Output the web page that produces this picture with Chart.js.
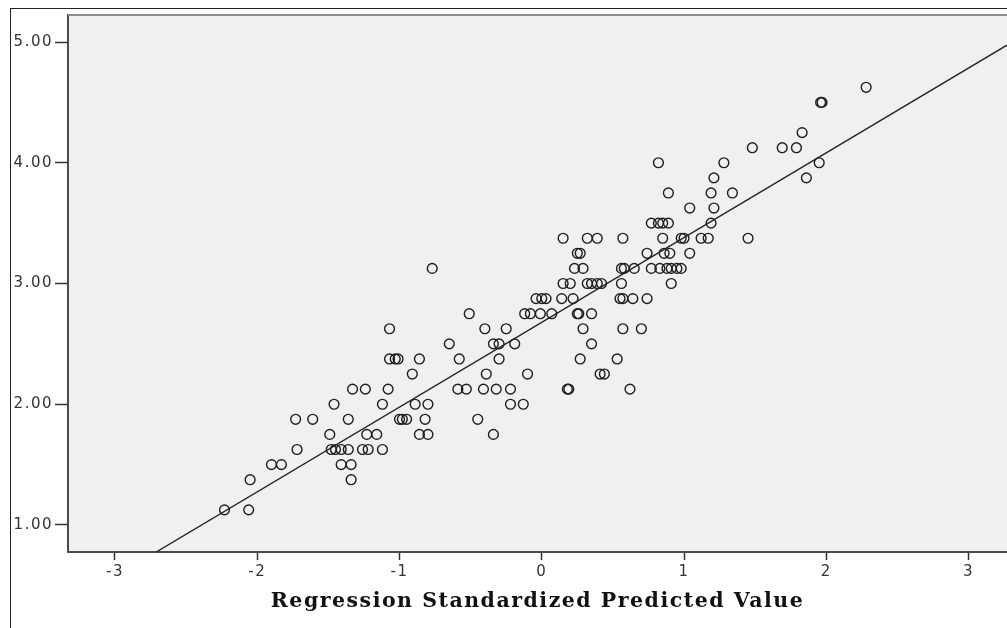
<!DOCTYPE html>
<html>
<head>
<meta charset="utf-8">
<script src="https://cdn.jsdelivr.net/npm/chart.js@4"></script>
<style>
  body { margin: 0; background: #fff; }
  #wrap { width: 1007px; height: 628px; }
</style>
</head>
<body>
<div id="wrap"><canvas id="scatterChart"></canvas></div>
<script>
// regression standardized predicted value (x) and observed score (y), read row by row
const zPred = [
    2.28,
    1.96, 1.97,
    1.83,
    1.48, 1.69, 1.79,
    0.82, 1.28, 1.95,
    1.21, 1.86,
    0.89, 1.19, 1.34,
    1.04, 1.21,
    0.77, 0.82, 0.85, 0.89, 1.19,
    0.15, 0.32, 0.39, 0.57, 0.85, 0.98, 1.00, 1.12, 1.17, 1.45,
    0.25, 0.27, 0.74, 0.86, 0.90, 1.04,
    -0.77, 0.23, 0.29, 0.56, 0.58, 0.65, 0.77, 0.83, 0.88, 0.91, 0.95, 0.98,
    0.15, 0.20, 0.32, 0.35, 0.39, 0.42, 0.56, 0.91,
    -0.04, 0.00, 0.03, 0.14, 0.22, 0.55, 0.57, 0.64, 0.74,
    -0.51, -0.12, -0.08, -0.01, 0.07, 0.25, 0.26, 0.35,
    -1.07, -0.40, -0.25, 0.29, 0.57, 0.70,
    -0.65, -0.34, -0.30, -0.19, 0.35,
    -1.07, -1.03, -1.01, -0.86, -0.58, -0.30, 0.27, 0.53,
    -0.91, -0.39, -0.10, 0.41, 0.44,
    -1.33, -1.24, -1.08, -0.59, -0.53, -0.41, -0.32, -0.22, 0.18, 0.19, 0.62,
    -1.46, -1.12, -0.89, -0.80, -0.22, -0.13,
    -1.73, -1.61, -1.36, -1.00, -0.98, -0.95, -0.82, -0.45,
    -1.49, -1.23, -1.16, -0.86, -0.80, -0.34,
    -1.72, -1.48, -1.45, -1.41, -1.36, -1.26, -1.22, -1.12,
    -1.90, -1.83, -1.41, -1.34,
    -2.05, -1.34,
    -2.23, -2.06
];
const score = [
    4.625,
    4.5, 4.5,
    4.25,
    4.125, 4.125, 4.125,
    4.0, 4.0, 4.0,
    3.875, 3.875,
    3.75, 3.75, 3.75,
    3.625, 3.625,
    3.5, 3.5, 3.5, 3.5, 3.5,
    3.375, 3.375, 3.375, 3.375, 3.375, 3.375, 3.375, 3.375, 3.375, 3.375,
    3.25, 3.25, 3.25, 3.25, 3.25, 3.25,
    3.125, 3.125, 3.125, 3.125, 3.125, 3.125, 3.125, 3.125, 3.125, 3.125, 3.125, 3.125,
    3.0, 3.0, 3.0, 3.0, 3.0, 3.0, 3.0, 3.0,
    2.875, 2.875, 2.875, 2.875, 2.875, 2.875, 2.875, 2.875, 2.875,
    2.75, 2.75, 2.75, 2.75, 2.75, 2.75, 2.75, 2.75,
    2.625, 2.625, 2.625, 2.625, 2.625, 2.625,
    2.5, 2.5, 2.5, 2.5, 2.5,
    2.375, 2.375, 2.375, 2.375, 2.375, 2.375, 2.375, 2.375,
    2.25, 2.25, 2.25, 2.25, 2.25,
    2.125, 2.125, 2.125, 2.125, 2.125, 2.125, 2.125, 2.125, 2.125, 2.125, 2.125,
    2.0, 2.0, 2.0, 2.0, 2.0, 2.0,
    1.875, 1.875, 1.875, 1.875, 1.875, 1.875, 1.875, 1.875,
    1.75, 1.75, 1.75, 1.75, 1.75, 1.75,
    1.625, 1.625, 1.625, 1.625, 1.625, 1.625, 1.625, 1.625,
    1.5, 1.5, 1.5, 1.5,
    1.375, 1.375,
    1.125, 1.125
];
// fit line end points, where it meets the frame
const fitX = [-2.71, 3.27];
const fitY = [0.776, 4.975];

const xTicks = [-3, -2, -1, 0, 1, 2, 3];
const yTicks = [1, 2, 3, 4, 5];
const xTitle = "Regression Standardized Predicted Value";

// plot background, outer frame and top border of the plot
const framePlugin = {
    id: "frame",
    beforeDraw(chart) {
        const { ctx, chartArea: a, width, height } = chart;
        ctx.save();
        ctx.fillStyle = "#ffffff";
        ctx.fillRect(0, 0, width, height);
        ctx.fillStyle = "#f0f0f0";
        ctx.fillRect(a.left, a.top, a.right - a.left, a.bottom - a.top);
        ctx.restore();
        ctx.letterSpacing = "1.5px";   // SPSS text is a bit spaced out
    },
    afterDraw(chart) {
        const { ctx, chartArea: a, width, height } = chart;
        ctx.save();
        ctx.strokeStyle = "#222";
        ctx.lineWidth = 1;
        ctx.strokeRect(10.5, 8.5, width + 10, height + 10);
        ctx.strokeStyle = "#8a8a8a";
        ctx.lineWidth = 2;
        ctx.beginPath();
        ctx.moveTo(a.left, a.top);
        ctx.lineTo(a.right, a.top);
        ctx.stroke();
        ctx.restore();
    }
};

const ctx = document.getElementById("scatterChart").getContext("2d");
const scatterChart = new Chart(ctx, {
    type: "scatter",
    data: {
        datasets: [{
            label: "Observed",
            data: zPred.map((x, i) => ({ x: x, y: score[i] })),
            pointStyle: "circle",
            pointRadius: 4.9,
            pointHoverRadius: 4.9,
            borderColor: "#1e1e1e",
            borderWidth: 1.4,
            backgroundColor: "rgba(0,0,0,0)",
        }, {
            type: "line",
            label: "Fit",
            data: fitX.map((x, i) => ({ x: x, y: fitY[i] })),
            borderColor: "#222",
            borderWidth: 1.4,
            pointRadius: 0,
            fill: false,
        }]
    },
    options: {
        responsive: true,
        maintainAspectRatio: false,
        animation: false,
        events: [],
        layout: {
            autoPadding: false,
            padding: { top: 15, right: 0, bottom: 0, left: 0 }
        },
        plugins: {
            legend: { display: false },
            tooltip: { enabled: false },
        },
        scales: {
            x: {
                type: "linear",
                min: -3.33,
                max: 3.27,
                afterBuildTicks: scale => { scale.ticks = xTicks.map(v => ({ value: v })); },
                afterFit: scale => { scale.height = 76; },
                grid: {
                    drawOnChartArea: false,
                    drawTicks: true,
                    tickLength: 8,
                    tickColor: "#333",
                    tickWidth: 1.5,
                },
                border: { display: true, color: "#4a4a4a", width: 2 },
                ticks: {
                    color: "#333",
                    padding: 3,
                    maxRotation: 0,
                    font: { family: "DejaVu Sans", size: 15 },
                    callback: v => v,
                },
                title: {
                    display: true,
                    text: xTitle,
                    color: "#111",
                    font: { family: "DejaVu Serif", size: 20.5, weight: "bold" },
                    padding: { top: 0, bottom: 14 },
                },
            },
            y: {
                type: "linear",
                min: 0.776,
                max: 5.224,
                afterBuildTicks: scale => { scale.ticks = yTicks.map(v => ({ value: v })); },
                afterFit: scale => { scale.width = 68; },
                grid: {
                    drawOnChartArea: false,
                    drawTicks: true,
                    tickLength: 13,
                    tickColor: "#333",
                    tickWidth: 1.5,
                },
                border: { display: true, color: "#4a4a4a", width: 2 },
                ticks: {
                    color: "#333",
                    padding: 2,
                    font: { family: "DejaVu Sans", size: 15 },
                    callback: v => v.toFixed(2),
                },
            },
        },
    },
    plugins: [framePlugin],
});
</script>
</body>
</html>
